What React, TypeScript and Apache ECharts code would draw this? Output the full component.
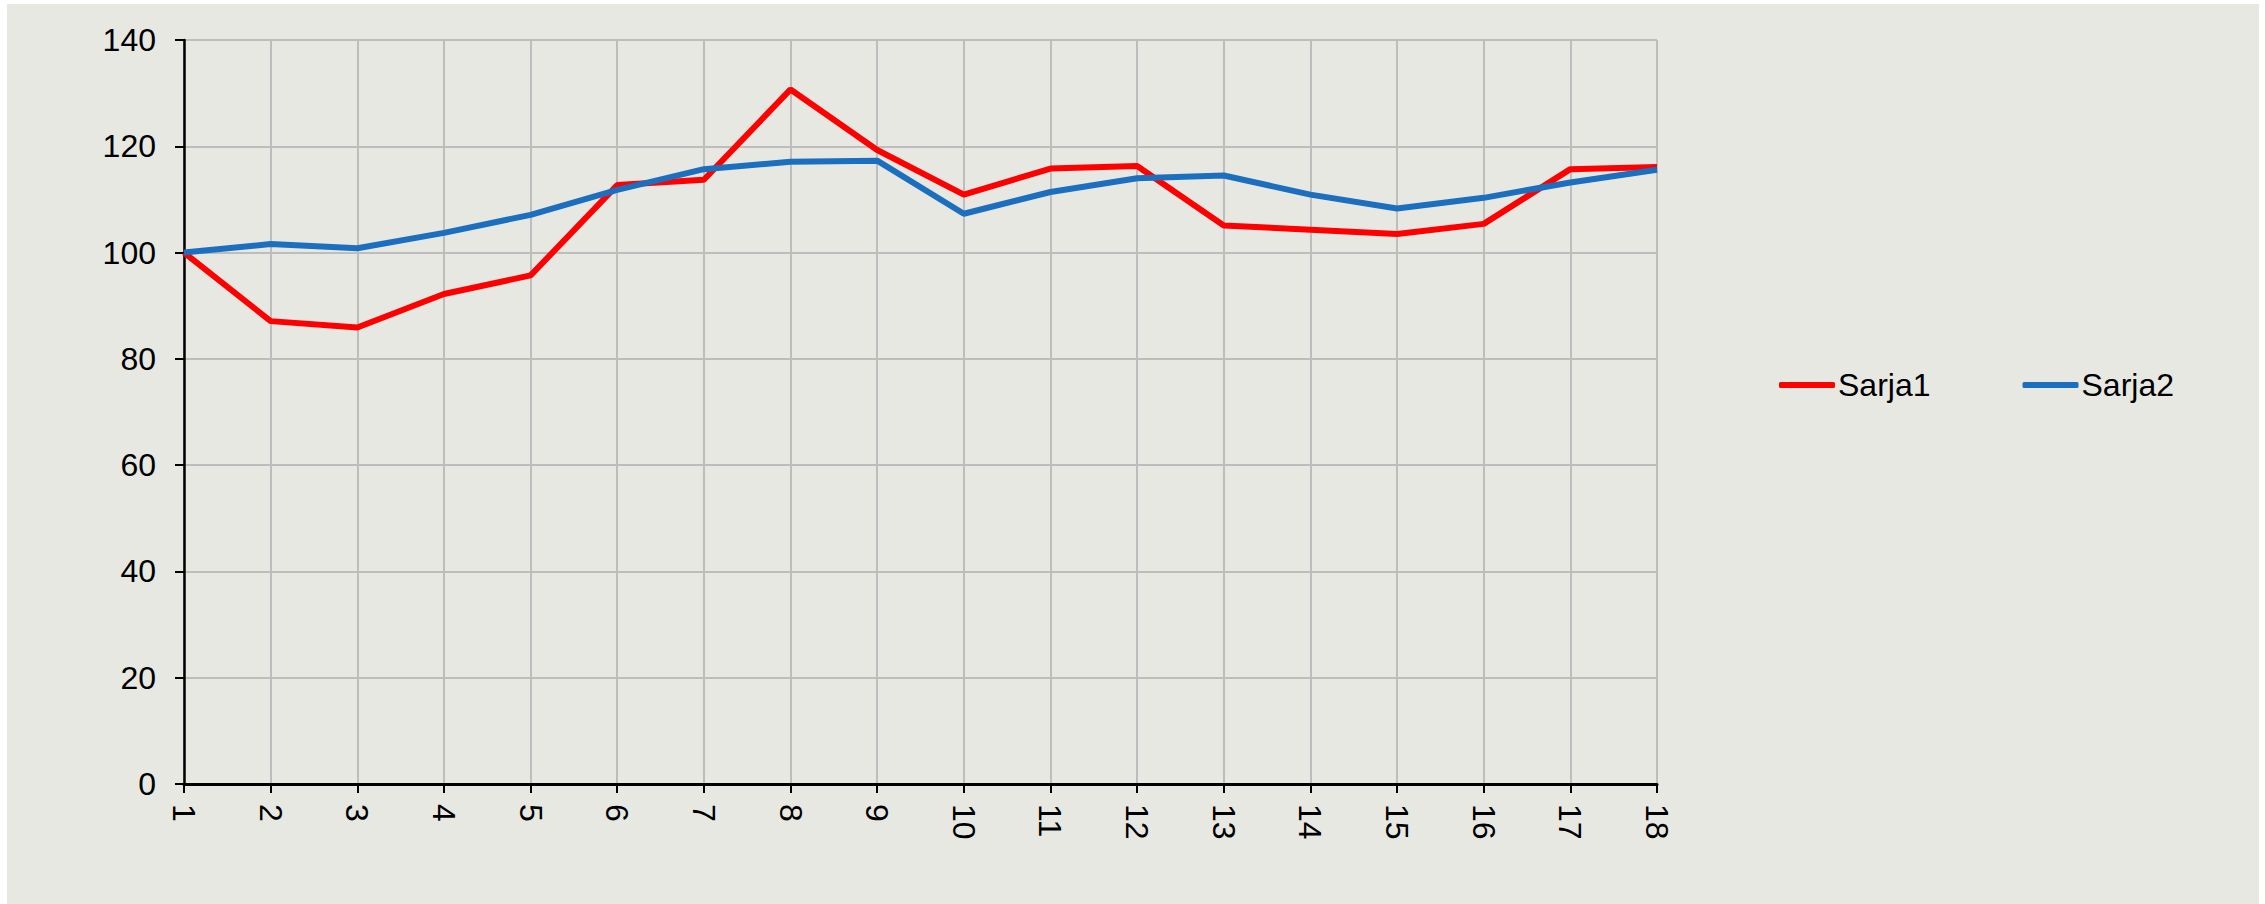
import React, { useEffect, useRef } from "react";
import * as echarts from "echarts";

const categories = ["1","2","3","4","5","6","7","8","9","10","11","12","13","14","15","16","17","18"];
const sarja1 = [100, 87.1, 85.9, 92.2, 95.7, 112.7, 113.7, 130.7, 119.3, 110.9, 115.8, 116.3, 105.1, 104.3, 103.5, 105.4, 115.7, 116.1];
const sarja2 = [100, 101.6, 100.8, 103.7, 107.1, 111.8, 115.7, 117.1, 117.3, 107.3, 111.4, 114.0, 114.5, 110.9, 108.3, 110.3, 113.2, 115.6];
const seriesNames = ["Sarja1", "Sarja2"];
const seriesColors = ["#FF0000", "#1B6FBE"];

const FONT = "Arial, 'Liberation Sans', sans-serif";

export default function App() {
  const ref = useRef<HTMLDivElement>(null);
  useEffect(() => {
    if (!ref.current) return;
    const chart = echarts.init(ref.current, null, { renderer: "svg" });
    chart.setOption({
      animation: false,
      backgroundColor: "#E8E8E3",
      textStyle: { fontFamily: FONT },
      grid: { left: 177, top: 36, right: 602, bottom: 120, containLabel: false },
      legend: {
        left: 1772,
        top: 365,
        padding: 0,
        itemWidth: 56,
        itemHeight: 6,
        itemGap: 92,
        icon: "roundRect",
        textStyle: { fontSize: 32, color: "#000", fontFamily: FONT, lineHeight: 32, padding: [0, 0, 0, -2] },
        data: seriesNames,
      },
      xAxis: {
        type: "category",
        data: categories,
        boundaryGap: false,
        axisLine: { show: true, lineStyle: { color: "#000", width: 3 } },
        axisTick: { show: true, length: 9, lineStyle: { color: "#000", width: 2 } },
        axisLabel: { rotate: -90, margin: 20, fontSize: 32, color: "#000", fontFamily: FONT },
        splitLine: { show: true, lineStyle: { color: "#BDBDBD", width: 2 } },
      },
      yAxis: {
        type: "value",
        min: 0,
        max: 140,
        interval: 20,
        axisLine: { show: true, lineStyle: { color: "#000", width: 2.5 } },
        axisTick: { show: true, length: 9, lineStyle: { color: "#000", width: 2 } },
        axisLabel: { margin: 28, fontSize: 32, color: "#000", fontFamily: FONT },
        splitLine: { show: true, lineStyle: { color: "#BDBDBD", width: 2 } },
      },
      series: [
        {
          name: seriesNames[0],
          type: "line",
          data: sarja1,
          symbol: "none",
          color: seriesColors[0],
          lineStyle: { width: 6, color: seriesColors[0] },
        },
        {
          name: seriesNames[1],
          type: "line",
          data: sarja2,
          symbol: "none",
          color: seriesColors[1],
          lineStyle: { width: 6, color: seriesColors[1] },
        },
      ],
    });
    return () => chart.dispose();
  }, []);
  return (
    <div
      ref={ref}
      style={{ position: "absolute", left: 7, top: 4, width: 2252, height: 900 }}
    />
  );
}
